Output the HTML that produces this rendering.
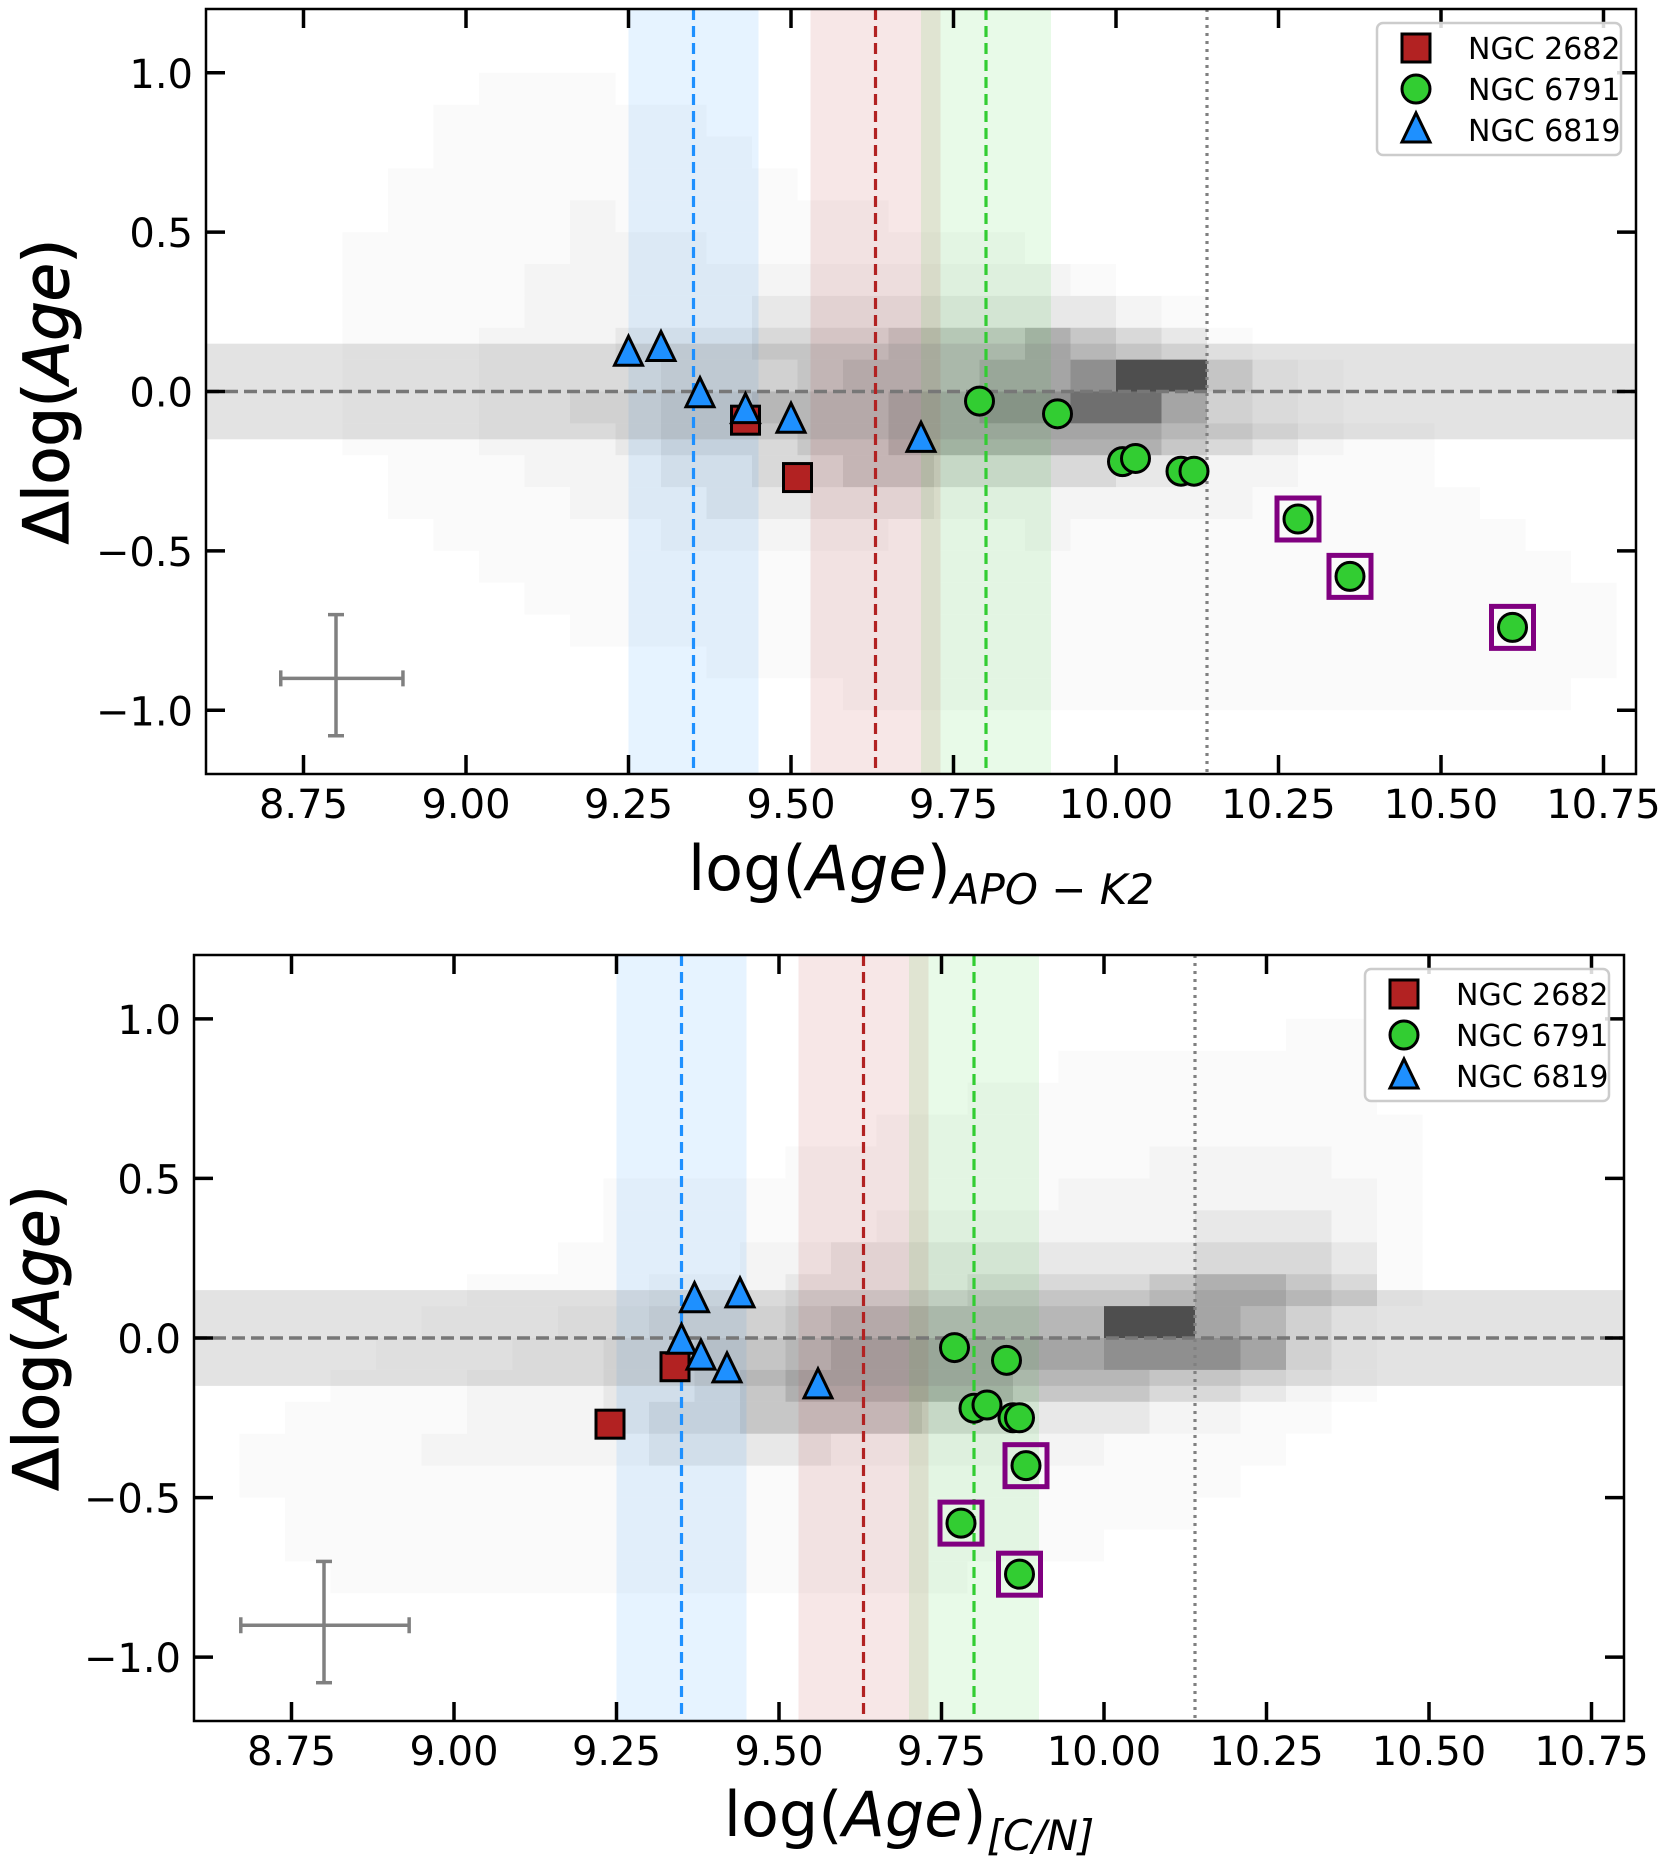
<!DOCTYPE html>
<html><head><meta charset="utf-8">
<style>
html,body{margin:0;padding:0;background:#fff;}
svg{display:block;font-family:"DejaVu Sans","Liberation Sans",sans-serif;}
</style></head>
<body>
<svg id="fig" width="1665" height="1860" viewBox="0 0 1665 1860" xmlns="http://www.w3.org/2000/svg"></svg>
<script>
// ---------- DATA ----------
const xTicks = [8.75, 9.00, 9.25, 9.50, 9.75, 10.00, 10.25, 10.50, 10.75];
const xTickLabels = ["8.75","9.00","9.25","9.50","9.75","10.00","10.25","10.50","10.75"];
const yTicks = [1.0, 0.5, 0.0, -0.5, -1.0];
const yTickLabels = ["1.0","0.5","0.0","\u22120.5","\u22121.0"];
const legendNames = ["NGC 2682","NGC 6791","NGC 6819"];

// heatmap bins: x from 8.60 step 0.07, y rows from 1.0 downward step 0.1 (digits = density level 0-9)
const heatX0 = 8.60, heatDX = 0.07, heatY0 = 1.0, heatDY = 0.1;
const heatTop = [
"0000001110000000000000000000000",
"0000011111100000000000000000000",
"0000011111110000000000000000000",
"0000111111111000000000000000000",
"0000111121111110000000000000000",
"0001111122211111110000000000000",
"0001111222222222222100000000000",
"0001111222223333333321000000000",
"0001112223334445556543100000000",
"0001112222333455566799421000000",
"0001112233445556677886321000000",
"0001112223444556666665432110000",
"0000111222334455444433221110000",
"0000111122233333222222211111000",
"0000011111222221112111111111100",
"0000001111111111111111111111110",
"0000000111111111111111111111111",
"0000000011111111111111111111111",
"0000000000011111111111111111111",
"0000000000000011111111111111110"];
const heatBottom = [
"0000000000000000000000001100000",
"0000000000000000000111111100000",
"0000000000000000011111111100000",
"0000000000000001111111111110000",
"0000000000000111111112222110000",
"0000000001111111111222222210000",
"0000000001111112222222333210000",
"0000000011112233333333444310000",
"0000001111222333344445665410000",
"0000011122333455555599653100000",
"0000111223344566666677763100000",
"0001112223345666665554432100000",
"0011112223445555443332211000000",
"0111122222333322222211110000000",
"0111111111111111111111100000000",
"0011111111111111111111000000000",
"0011111111111111111100000000000",
"0001111111111111100000000000000",
"0000000000000000000000000000000",
"0000000000000000000000000000000"];
const heatAlpha = [0, 0.018, 0.045, 0.09, 0.15, 0.22, 0.31, 0.42, 0.58, 0.75];

// top panel (APO-K2)
const topSquaresX = [9.43, 9.51];
const topSquaresY = [-0.09, -0.27];
const topCirclesX = [9.79, 9.91, 10.01, 10.03, 10.10, 10.12, 10.28, 10.36, 10.61];
const topCirclesY = [-0.03, -0.07, -0.22, -0.21, -0.25, -0.25, -0.40, -0.58, -0.74];
const topTrianglesX = [9.25, 9.30, 9.36, 9.43, 9.50, 9.70];
const topTrianglesY = [0.12, 0.135, -0.01, -0.06, -0.09, -0.15];
const topFlaggedX = [10.28, 10.36, 10.61];
const topFlaggedY = [-0.40, -0.58, -0.74];
const topErrX = [8.8, 8.715, 8.903];
const topErrY = [-0.9, -0.70, -1.08];

// bottom panel ([C/N])
const botSquaresX = [9.34, 9.24];
const botSquaresY = [-0.09, -0.27];
const botCirclesX = [9.77, 9.85, 9.80, 9.82, 9.86, 9.87, 9.88, 9.78, 9.87];
const botCirclesY = [-0.03, -0.07, -0.22, -0.21, -0.25, -0.25, -0.40, -0.58, -0.74];
const botTrianglesX = [9.37, 9.44, 9.35, 9.38, 9.42, 9.56];
const botTrianglesY = [0.12, 0.135, -0.01, -0.06, -0.10, -0.15];
const botFlaggedX = [9.88, 9.78, 9.87];
const botFlaggedY = [-0.40, -0.58, -0.74];
const botErrX = [8.8, 8.672, 8.931];
const botErrY = [-0.9, -0.70, -1.08];

// cluster reference ages
const spanBlue = [9.25, 9.45], spanRed = [9.53, 9.73], spanGreen = [9.70, 9.90];
const refBlue = 9.35, refRed = 9.63, refGreen = 9.80, refDotted = 10.14;
const bandLo = -0.15, bandHi = 0.15;

// ---------- DRAW ----------
const NS = "http://www.w3.org/2000/svg";
const svg = document.getElementById("fig");
function mk(tag, attrs, parent, text){
  const e = document.createElementNS(NS, tag);
  for (const k in attrs) e.setAttribute(k, attrs[k]);
  if (text !== undefined) e.textContent = text;
  (parent || svg).appendChild(e);
  return e;
}

function drawPanel(P){
  const g = mk("g", {});
  
  
  const sx = v => P.left + (v - 8.6) / (10.8 - 8.6) * (P.right - P.left);
  const sy = v => P.bottom - (v + 1.2) / 2.4 * (P.bottom - P.top);
  const clipId = P.name + "-clip";
  const defs = mk("defs", {}, g);
  const cp = mk("clipPath", {id: clipId}, defs);
  mk("rect", {x:P.left, y:P.top, width:P.right-P.left, height:P.bottom-P.top}, cp);
  const plot = mk("g", {"clip-path":"url(#"+clipId+")"}, g);

  // heatmap
  const hm = mk("g", {}, plot);
  
  
  P.heat.forEach((row, r) => {
    for (let c = 0; c < row.length; c++){
      const lv = +row[c];
      if (!lv) continue;
      const x0 = heatX0 + c*heatDX, y1 = heatY0 - r*heatDY;
      const cell = mk("rect", {x:sx(x0), y:sy(y1), width:sx(x0+heatDX)-sx(x0), height:sy(y1-heatDY)-sy(y1),
        fill:"#000", "fill-opacity": heatAlpha[lv]}, hm);
      
      
    }
  });

  // spans
  const spans = [[spanBlue,"rgba(30,144,255,0.11)","blue-age-span"],[spanRed,"rgba(178,34,34,0.11)","red-age-span"],[spanGreen,"rgba(50,205,50,0.11)","green-age-span"]];
  spans.forEach(s => {
    const e = mk("rect", {x:sx(s[0][0]), y:P.top, width:sx(s[0][1])-sx(s[0][0]), height:P.bottom-P.top, fill:s[1]}, plot);
    
    
  });
  // band
  const band = mk("rect", {x:P.left, y:sy(bandHi), width:P.right-P.left, height:sy(bandLo)-sy(bandHi), fill:"rgba(128,128,128,0.22)"}, plot);
  
  
  const zl = mk("line", {x1:P.left, x2:P.right, y1:sy(0), y2:sy(0), stroke:"#777", "stroke-width":3.5, "stroke-dasharray":"13 6"}, plot);
  
  
  // vertical refs
  [[refBlue,"#1e90ff","11 6","blue-reference-line"],[refRed,"#b22222","11 6","red-reference-line"],[refGreen,"#32cd32","11 6","green-reference-line"],[refDotted,"#808080","3 5","dotted-reference-line"]].forEach(v => {
    const e = mk("line", {x1:sx(v[0]), x2:sx(v[0]), y1:P.top, y2:P.bottom, stroke:v[1], "stroke-width":3.2, "stroke-dasharray":v[2]}, plot);
    
    
  });
  // error cross
  const ec = mk("g", {stroke:"#808080", "stroke-width":3.5}, plot);
  
  
  const ex = P.err[0], ey = P.err[1];
  mk("line", {x1:sx(ex[1]), x2:sx(ex[2]), y1:sy(ey[0]), y2:sy(ey[0])}, ec);
  mk("line", {x1:sx(ex[0]), x2:sx(ex[0]), y1:sy(ey[1]), y2:sy(ey[2])}, ec);
  mk("line", {x1:sx(ex[1]), x2:sx(ex[1]), y1:sy(ey[0])-8, y2:sy(ey[0])+8}, ec);
  mk("line", {x1:sx(ex[2]), x2:sx(ex[2]), y1:sy(ey[0])-8, y2:sy(ey[0])+8}, ec);
  mk("line", {x1:sx(ex[0])-8, x2:sx(ex[0])+8, y1:sy(ey[1]), y2:sy(ey[1])}, ec);
  mk("line", {x1:sx(ex[0])-8, x2:sx(ex[0])+8, y1:sy(ey[2]), y2:sy(ey[2])}, ec);

  // markers
  P.sq[0].forEach((x, i) => {
    const e = mk("rect", {x:sx(x)-14, y:sy(P.sq[1][i])-14, width:28, height:28, fill:"#b22222", stroke:"#000", "stroke-width":3}, g);
    
    
  });
  P.tri[0].forEach((x, i) => {
    const cx = sx(x), cy = sy(P.tri[1][i]);
    const e = mk("polygon", {points:`${cx},${cy-17} ${cx+14},${cy+12} ${cx-14},${cy+12}`, fill:"#1e90ff", stroke:"#000", "stroke-width":3, "stroke-linejoin":"miter"}, g);
    
    
  });
  P.circ[0].forEach((x, i) => {
    const e = mk("circle", {cx:sx(x), cy:sy(P.circ[1][i]), r:14, fill:"#32cd32", stroke:"#000", "stroke-width":3}, g);
    
    
  });
  P.flag[0].forEach((x, i) => {
    const e = mk("rect", {x:sx(x)-21, y:sy(P.flag[1][i])-21, width:42, height:42, fill:"none", stroke:"#800080", "stroke-width":5}, g);
    
    
  });

  // frame
  const fr = mk("rect", {x:P.left, y:P.top, width:P.right-P.left, height:P.bottom-P.top, fill:"none", stroke:"#000", "stroke-width":2.5}, g);
  
  
  // ticks
  xTicks.forEach((t, i) => {
    const x = sx(t);
    mk("line", {x1:x, x2:x, y1:P.bottom, y2:P.bottom-19, stroke:"#000", "stroke-width":3.5}, g);
    mk("line", {x1:x, x2:x, y1:P.top, y2:P.top+19, stroke:"#000", "stroke-width":3.5}, g);
    const tl = mk("text", {x:x, y:P.bottom+44, "font-size":40, "text-anchor":"middle"}, g, xTickLabels[i]);
    
    
  });
  yTicks.forEach((t, i) => {
    const y = sy(t);
    mk("line", {x1:P.left, x2:P.left+19, y1:y, y2:y, stroke:"#000", "stroke-width":3.5}, g);
    mk("line", {x1:P.right, x2:P.right-19, y1:y, y2:y, stroke:"#000", "stroke-width":3.5}, g);
    const tl = mk("text", {x:P.left-13, y:y+15, "font-size":40, "text-anchor":"end"}, g, yTickLabels[i]);
    
    
  });

  // legend
  const lg = mk("g", {}, g);
  
  
  const L = P.legend;
  mk("rect", {x:L.x, y:L.y, width:244, height:132, rx:6, fill:"rgba(255,255,255,0.85)", stroke:"#ccc", "stroke-width":2.5}, lg);
  legendNames.forEach((n, i) => {
    const cy = L.y + 25 + i*41, mx = L.x + 39;
    const ent = mk("g", {}, lg);
    
    
    if (i === 0) mk("rect", {x:mx-14, y:cy-14, width:28, height:28, fill:"#b22222", stroke:"#000", "stroke-width":3}, ent);
    if (i === 1) mk("circle", {cx:mx, cy:cy, r:14, fill:"#32cd32", stroke:"#000", "stroke-width":3}, ent);
    if (i === 2) mk("polygon", {points:`${mx},${cy-17} ${mx+14},${cy+12} ${mx-14},${cy+12}`, fill:"#1e90ff", stroke:"#000", "stroke-width":3}, ent);
    mk("text", {x:L.x+91, y:cy+11, "font-size":30}, ent, n);
  });

  // axis labels
  const yl = mk("text", {x:0, y:0, "font-size":62, "text-anchor":"middle", "stroke":"#000", "stroke-width":1.2, transform:`translate(${P.ylx},${(P.top+P.bottom)/2}) rotate(-90)`}, g);
  
  
  mk("tspan", {}, yl, "\u0394log(");
  mk("tspan", {"font-style":"italic"}, yl, "Age");
  mk("tspan", {}, yl, ")");
  const xl = mk("text", {x:(P.left+P.right)/2, y:P.xly, "font-size":62, "text-anchor":"middle"}, g);
  
  
  mk("tspan", {}, xl, "log(");
  mk("tspan", {"font-style":"italic"}, xl, "Age");
  mk("tspan", {}, xl, ")");
  mk("tspan", {"font-style":"italic", "font-size":42, dy:14}, xl, P.sub);
}

drawPanel({name:"top-panel", left:206, right:1636, top:9, bottom:774, heat:heatTop,
  sq:[topSquaresX, topSquaresY], circ:[topCirclesX, topCirclesY], tri:[topTrianglesX, topTrianglesY],
  flag:[topFlaggedX, topFlaggedY], err:[topErrX, topErrY], legend:{x:1377, y:23},
  ylx:68, xly:890, sub:"APO \u2212 K2"});
drawPanel({name:"bottom-panel", left:194, right:1624, top:955, bottom:1721, heat:heatBottom,
  sq:[botSquaresX, botSquaresY], circ:[botCirclesX, botCirclesY], tri:[botTrianglesX, botTrianglesY],
  flag:[botFlaggedX, botFlaggedY], err:[botErrX, botErrY], legend:{x:1365, y:969},
  ylx:58, xly:1836, sub:"[C/N]"});
</script>
</body></html>
